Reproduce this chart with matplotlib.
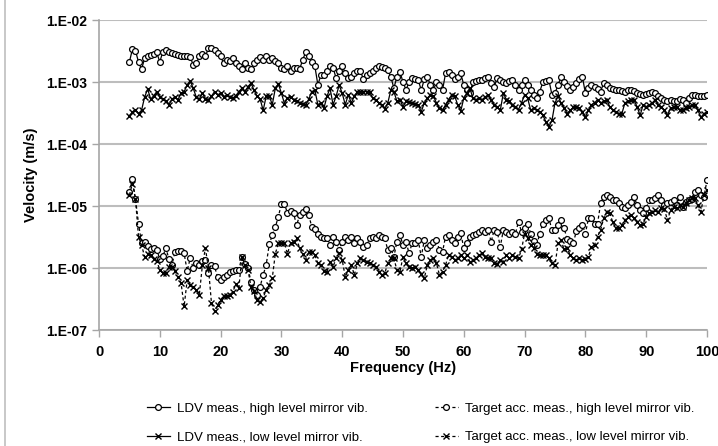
import numpy as np
import matplotlib.pyplot as plt
from matplotlib.lines import Line2D
from matplotlib.ticker import NullLocator

# frequency grid of the measurement: 5 to 100 Hz in 0.5 Hz steps
freq = np.arange(5, 100.5, 0.5)

# LDV measurement, high level mirror vibration (mm/s)
ldv_high_mm = [
    2.1, 3.4, 3.2, 2.1, 1.6, 2.4, 2.6, 2.7, 2.8, 3.0,
    2.1, 3.1, 3.3, 3.0, 2.9, 2.8, 2.7, 2.6, 2.6, 2.6,
    2.5, 1.9, 2.0, 2.6, 2.8, 2.6, 3.5, 3.6, 3.3, 2.9,
    2.6, 2.0, 2.3, 2.2, 2.4, 2.0, 1.8, 1.6, 2.0, 1.7,
    1.6, 2.0, 2.3, 2.5, 2.3, 2.6, 2.3, 2.4, 2.2, 2.0,
    1.7, 1.6, 1.8, 1.5, 1.7, 1.7, 1.6, 2.3, 3.0, 2.6,
    2.1, 1.8, 0.9, 1.3, 1.3, 1.5, 1.8, 1.7, 1.15, 1.5,
    1.8, 1.4, 1.15, 1.2, 1.4, 1.5, 1.5, 1.1, 1.3, 1.4,
    1.5, 1.7, 1.8, 1.75, 1.7, 1.55, 1.2, 0.8, 1.2, 1.45,
    1.0, 0.75, 1.0, 1.15, 1.1, 1.08, 0.74, 1.1, 1.2, 0.9,
    0.74, 1.0, 0.9, 0.74, 1.38, 1.47, 1.3, 1.1, 1.2, 1.38,
    0.89, 0.75, 0.66, 1.0, 1.05, 1.08, 1.08, 1.15, 1.2, 0.95,
    0.84, 1.15, 1.08, 1.0, 0.96, 1.05, 1.08, 0.9, 0.74, 0.9,
    1.08, 0.9, 0.74, 0.62, 0.55, 0.7, 1.0, 1.05, 1.08, 0.62,
    0.66, 0.9, 1.22, 1.0, 0.85, 0.74, 0.84, 0.95, 1.1, 1.22,
    0.66, 0.8, 0.9, 0.84, 0.78, 0.7, 0.96, 0.88, 0.8, 0.76,
    0.75, 0.74, 0.72, 0.7, 0.74, 0.74, 0.72, 0.66, 0.64, 0.62,
    0.64, 0.66, 0.68, 0.66, 0.6, 0.56, 0.52, 0.5, 0.52, 0.5,
    0.49, 0.53, 0.52, 0.46, 0.55, 0.62, 0.62, 0.6, 0.59, 0.6,
    0.62,
]

# LDV measurement, low level mirror vibration (mm/s)
ldv_low_mm = [
    0.28, 0.33, 0.36, 0.31, 0.35, 0.57, 0.77, 0.53, 0.6, 0.70,
    0.57, 0.53, 0.50, 0.43, 0.53, 0.57, 0.52, 0.66, 0.70, 0.89,
    1.05, 0.79, 0.57, 0.53, 0.66, 0.53, 0.52, 0.59, 0.70, 0.62,
    0.66, 0.57, 0.62, 0.57, 0.55, 0.6, 0.70, 0.79, 0.70, 0.84,
    0.96, 0.74, 0.59, 0.53, 0.35, 0.59, 0.6, 0.43, 0.79, 0.94,
    0.66, 0.45, 0.55, 0.57, 0.52, 0.49, 0.46, 0.44, 0.43, 0.53,
    0.70, 0.74, 0.43, 0.46, 0.38, 0.59, 0.79, 0.43, 0.59, 0.89,
    0.66, 0.43, 0.62, 0.46, 0.59, 0.70, 0.70, 0.7, 0.7, 0.7,
    0.55, 0.52, 0.46, 0.43, 0.37, 0.46, 0.74, 0.70, 0.49, 0.52,
    0.40, 0.49, 0.47, 0.46, 0.44, 0.43, 0.33, 0.46, 0.55, 0.62,
    0.59, 0.46, 0.38, 0.35, 0.43, 0.52, 0.62, 0.59, 0.43, 0.34,
    0.55, 0.66, 0.79, 0.55, 0.52, 0.55, 0.52, 0.57, 0.62, 0.52,
    0.43, 0.40, 0.35, 0.66, 0.52, 0.49, 0.43, 0.40, 0.36, 0.46,
    0.62, 0.55, 0.35, 0.38, 0.35, 0.33, 0.29, 0.23, 0.19, 0.24,
    0.46, 0.59, 0.46, 0.38, 0.31, 0.35, 0.39, 0.40, 0.38, 0.33,
    0.27, 0.35, 0.43, 0.46, 0.52, 0.46, 0.49, 0.52, 0.40, 0.35,
    0.33, 0.31, 0.31, 0.46, 0.49, 0.52, 0.51, 0.40, 0.29, 0.43,
    0.40, 0.43, 0.46, 0.52, 0.43, 0.40, 0.35, 0.29, 0.38, 0.39,
    0.40, 0.35, 0.36, 0.38, 0.40, 0.42, 0.43, 0.35, 0.27, 0.31,
    0.33,
]

# target accelerometer, high level mirror vibration (um/s)
target_high_um = [
    17, 27, 13, 5.2, 2.5, 2.6, 2.3, 2.0, 2.1, 1.95,
    1.4, 1.55, 2.1, 1.4, 1.12, 1.83, 1.85, 1.85, 1.72, 0.9,
    1.43, 1.0, 1.2, 1.12, 1.3, 1.35, 0.82, 1.13, 1.06, 0.72,
    0.64, 0.72, 0.77, 0.85, 0.9, 0.93, 0.93, 1.52, 1.15, 1.0,
    0.6, 0.45, 0.37, 0.5, 0.77, 1.13, 2.4, 3.4, 4.6, 6.7,
    10.9, 10.9, 7.6, 8.2, 7.6, 4.9, 7.1, 8.0, 8.8, 7.1,
    4.6, 4.3, 3.6, 3.2, 3.0, 3.0, 2.35, 3.2, 2.65, 1.95,
    2.65, 3.2, 2.8, 3.2, 2.5, 3.0, 2.65, 2.2, 2.35, 3.0,
    3.2, 3.0, 3.4, 3.2, 3.0, 1.95, 2.07, 1.52, 2.65, 3.4,
    2.35, 2.65, 1.72, 2.5, 2.5, 2.8, 1.52, 2.8, 2.07, 2.35,
    2.65, 2.8, 1.95, 1.83, 3.2, 3.4, 2.8, 2.5, 3.2, 3.7,
    2.07, 2.5, 3.2, 3.4, 3.6, 3.85, 4.1, 3.85, 4.1, 2.65,
    4.1, 3.85, 2.2, 4.1, 3.85, 3.6, 3.85, 3.6, 5.6, 3.8,
    4.5, 5.2, 3.6, 2.7, 2.35, 3.6, 5.2, 5.9, 6.3, 4.1,
    4.1, 5.0, 5.9, 4.4, 2.9, 2.7, 2.5, 3.9, 4.4, 4.9,
    3.6, 6.3, 6.3, 5.2, 5.2, 11, 14, 15, 14, 12.5,
    12.5, 11, 9.8, 9.2, 10.4, 11.7, 14, 10.4, 8.6, 7.6,
    9.2, 12.5, 12.5, 13.5, 15, 12.5, 10.4, 11, 11.7, 12.5,
    10.4, 14, 9.8, 11.7, 12.5, 13, 17, 18, 15, 14.1,
    26,
]

# target accelerometer, low level mirror vibration (um/s)
target_low_um = [
    15, 23, 13, 3.2, 2.35, 1.52, 1.7, 1.6, 1.4, 1.3,
    0.93, 0.82, 0.82, 1.05, 1.05, 0.9, 0.72, 0.57, 0.24, 0.64,
    0.53, 0.5, 0.45, 0.37, 1.1, 2.07, 1.0, 0.27, 0.2, 0.25,
    0.31, 0.35, 0.35, 0.37, 0.41, 0.55, 0.47, 1.52, 1.12, 0.93,
    0.5, 0.43, 0.3, 0.28, 0.33, 0.45, 0.53, 0.69, 1.7, 2.5,
    2.5, 2.5, 1.7, 2.5, 2.65, 3.0, 2.07, 1.7, 1.35, 1.8,
    1.8, 1.6, 1.2, 1.1, 0.9, 0.87, 1.26, 1.05, 1.43, 1.72,
    1.35, 0.72, 0.93, 1.12, 0.77, 1.19, 1.43, 1.35, 1.26, 1.19,
    1.12, 1.05, 0.87, 0.77, 0.82, 1.2, 1.43, 1.43, 0.93, 0.87,
    1.52, 1.19, 1.05, 0.99, 1.05, 0.93, 0.8, 0.68, 1.12, 1.35,
    1.43, 1.19, 0.77, 0.87, 1.12, 1.62, 1.52, 1.35, 1.43, 1.62,
    1.43, 1.62, 1.26, 1.35, 1.43, 1.62, 1.72, 1.52, 1.43, 1.43,
    1.2, 1.15, 1.35, 1.26, 1.62, 1.43, 1.62, 1.52, 1.43, 2.0,
    3.6, 3.0, 2.35, 2.1, 1.7, 1.62, 1.62, 1.62, 1.43, 1.19,
    1.1, 2.5, 2.8, 2.0, 2.1, 1.62, 1.43, 1.35, 1.43, 1.35,
    1.4, 1.52, 2.2, 2.35, 3.2, 4.1, 6.3, 8.1, 7.6, 5.5,
    4.4, 4.4, 4.9, 5.9, 6.7, 7.2, 6.3, 5.6, 4.9, 5.2,
    6.7, 7.6, 8.1, 8.6, 8.1, 9.2, 8.8, 5.9, 8.6, 9.8,
    9.2, 10.4, 9.8, 11, 12.5, 13.3, 13.3, 10.4, 8.1, 15,
    18,
]

labels = [
    "LDV meas., high level mirror vib.",
    "LDV meas., low level mirror vib.",
    "Target acc. meas., high level mirror vib.",
    "Target acc. meas., low level mirror vib.",
]
yticks = [1e-7, 1e-6, 1e-5, 1e-4, 1e-3, 1e-2]
xticks = list(range(0, 101, 10))

ldv_high = np.array(ldv_high_mm) * 1e-3
ldv_low = np.array(ldv_low_mm) * 1e-3
target_high = np.array(target_high_um) * 1e-6
target_low = np.array(target_low_um) * 1e-6

plt.rcParams['font.family'] = ['Liberation Sans', 'DejaVu Sans']

W, H = 718, 446
fig = plt.figure(figsize=(W / 100, H / 100), dpi=100)
ax = fig.add_axes([99 / W, 1 - 330 / H, 608 / W, 310 / H])

circ = dict(marker='o', markersize=4.2, markerfacecolor='white',
            markeredgecolor='black', markeredgewidth=0.9)
cross = dict(marker='x', markersize=4, markeredgecolor='black', markeredgewidth=1.0)
dash = (0, (2.5, 2))

styles = [
    dict(color='black', lw=0.9, ls='-', **circ),
    dict(color='black', lw=0.9, ls='-', **cross),
    dict(color='black', lw=0.9, ls=dash, **circ),
    dict(color='black', lw=0.9, ls=dash, **cross),
]
series = [ldv_high, ldv_low, target_high, target_low]

for vals, st in zip(series, styles):
    ax.plot(freq, vals, zorder=3, **st)

ax.set_yscale('log')
ax.set_xlim(0, 100)
ax.set_ylim(1e-7, 1e-2)
ax.yaxis.set_minor_locator(NullLocator())
ax.set_yticks(yticks, [f"1.E{int(round(np.log10(v))):03d}" for v in yticks],
              fontweight='bold', fontsize=10)
ax.set_xticks(xticks, [str(t) for t in xticks], fontweight='bold', fontsize=10.5)
ax.yaxis.grid(True, color='#bdbdbd', lw=1.5)
ax.set_axisbelow(True)

for s in ['top', 'right']:
    ax.spines[s].set_visible(False)
for s in ['left', 'bottom']:
    ax.spines[s].set_color('#a6a6a6')
    ax.spines[s].set_linewidth(1.2)
ax.tick_params(axis='both', direction='out', length=5, color='#a6a6a6', width=1.0)
ax.tick_params(axis='x', pad=6)

ax.set_xlabel('Frequency (Hz)', fontweight='bold', fontsize=10.5)
ax.set_ylabel('Velocity (m/s)', fontweight='bold', fontsize=10.5)
ax.xaxis.set_label_coords(0.5, -0.1)
ax.yaxis.set_label_coords(-0.1, 0.5)

handles = [Line2D([], [], **st) for st in styles]
leg_kw = dict(loc='center left', frameon=False, fontsize=9.5, handlelength=1.8,
              handletextpad=0.5, labelspacing=1.2, borderpad=0)
fig.legend(handles[:2], labels[:2], bbox_to_anchor=(140 / W, 1 - 423 / H), **leg_kw)
fig.legend(handles[2:], labels[2:], bbox_to_anchor=(428 / W, 1 - 423 / H), **leg_kw)

# chart area border on the left edge
fig.add_artist(Line2D([4.5 / W, 4.5 / W], [0, 1], transform=fig.transFigure,
                      color='#bfbfbf', lw=1.2))

fig.savefig('out.png', dpi=100)
